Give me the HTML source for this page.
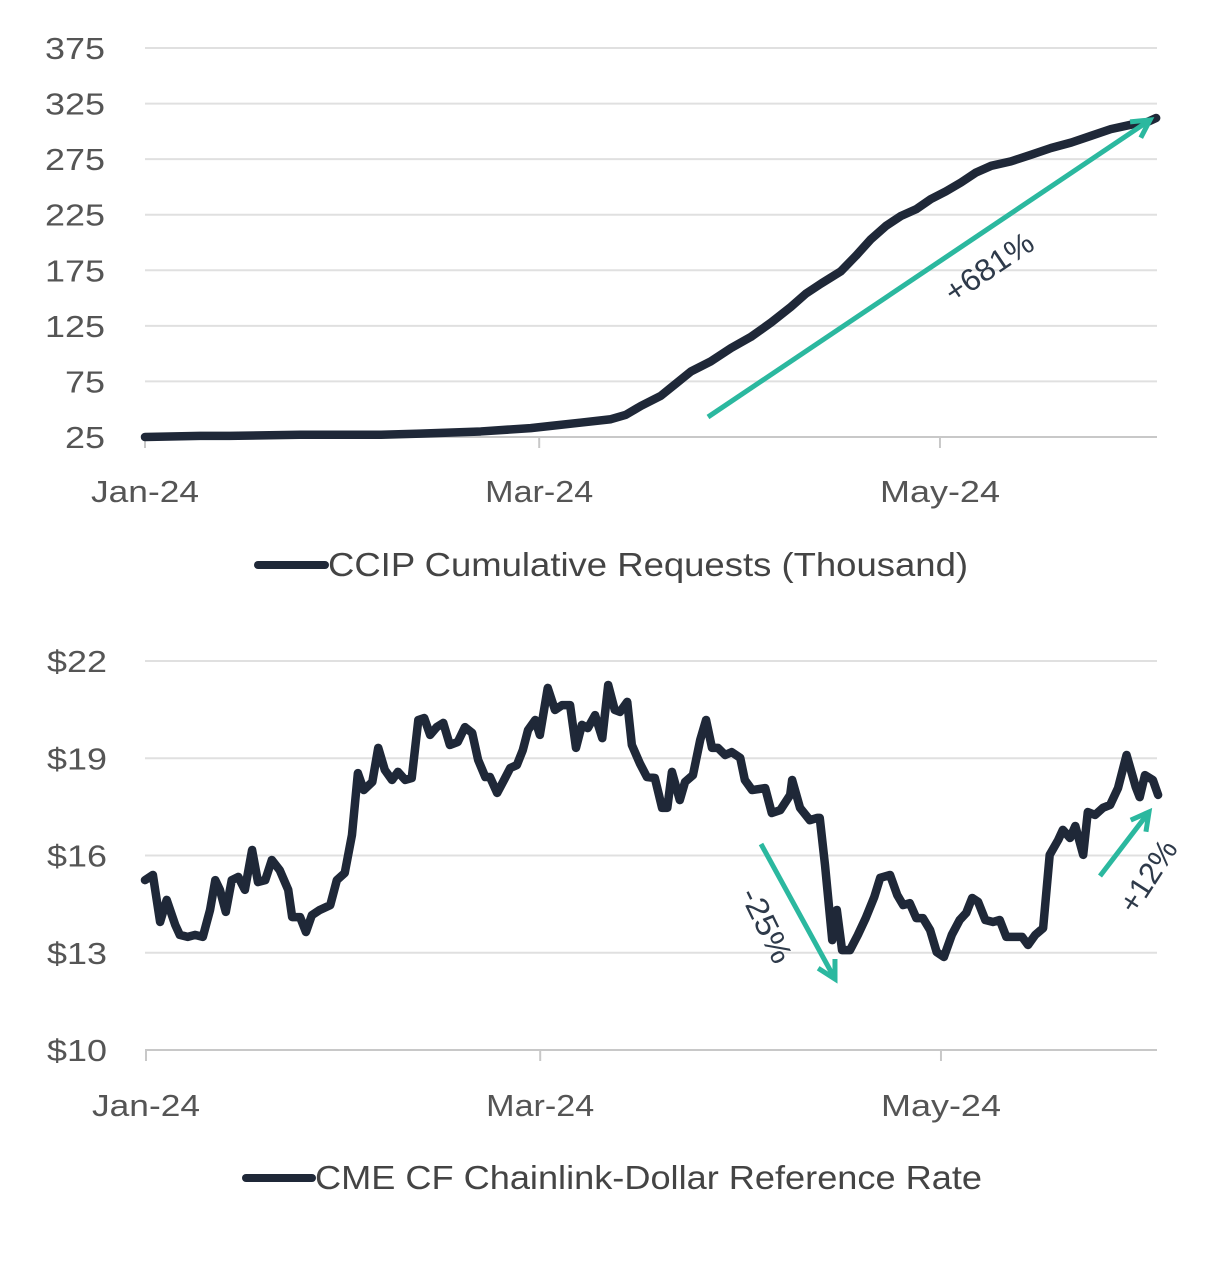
<!DOCTYPE html>
<html><head><meta charset="utf-8"><style>
html,body{margin:0;padding:0;background:#fff;}
svg{display:block;font-family:"Liberation Sans",sans-serif;}
</style></head><body>
<svg id="c" width="1228" height="1270" viewBox="0 0 1228 1270" xmlns="http://www.w3.org/2000/svg"></svg>
<script>
// ---- Top chart data ----
const topDays = [0,8.4,12.9,23.6,35.8,41.9,51.1,58.7,61.8,66.4,70.9,73.2,75.5,78.5,80.8,83.1,86.1,89.2,92.2,95.3,98.3,100.6,102.9,105.9,108.2,110.5,112.8,115.1,117.4,119.6,121.9,124.2,126.5,128.8,131.8,134.9,137.9,141.0,144.0,147.0,150.1,152.4,153.9];
const topValues = [25,26,26,27,27,28,30,33,35,38,41,45,53,62,73,84,93,105,115,128,142,154,163,174,188,203,215,224,230,239,246,254,263,269,273,279,285,290,296,302,306,308,312];
const topTicks = [25,75,125,175,225,275,325,375];
// ---- Bottom chart data ----
const botDays = [0,1.2,2.3,3.3,4.6,5.3,6.5,7.6,8.8,9.9,10.7,11.4,12.3,13.2,14.2,15.2,16.3,17.2,18.3,19.3,20.5,21.8,22.4,23.6,24.5,25.4,26.6,28.2,29.2,30.4,31.5,32.4,33.3,34.6,35.5,36.5,37.6,38.5,39.6,40.6,41.6,42.5,43.4,44.4,45.4,46.4,47.6,48.7,49.8,50.7,51.8,52.5,53.6,54.5,55.6,56.6,57.5,58.3,59.4,60.1,61.3,62.4,63.5,64.7,65.6,66.5,67.4,68.5,69.6,70.5,71.5,72.3,73.4,74.1,75.3,76.4,77.6,78.7,79.5,80.2,81.4,82.2,83.4,84.5,85.4,86.3,87.2,88.3,89.3,90.6,91.3,92.4,94.4,95.4,96.7,98.2,98.5,99.7,101.2,102.3,102.7,103.5,104.6,105.3,106.1,107.3,108.5,109.7,111.0,111.9,113.4,114.5,115.4,116.4,117.4,118.4,119.5,120.5,121.6,122.8,124.0,125.0,125.9,126.8,127.9,129.1,130.1,131.1,132.4,133.5,134.4,135.5,136.7,137.7,139.0,139.7,140.8,141.6,142.8,143.5,144.6,145.8,146.9,148.1,149.4,150.8,151.4,152.2,153.4,154.2];
const botValues = [15.24,15.40,13.95,14.63,13.86,13.55,13.49,13.55,13.49,14.32,15.24,14.94,14.26,15.24,15.34,14.94,16.17,15.18,15.24,15.86,15.55,14.94,14.10,14.10,13.64,14.16,14.32,14.47,15.24,15.46,16.63,18.54,18.02,18.27,19.32,18.64,18.33,18.58,18.33,18.39,20.18,20.24,19.72,19.96,20.09,19.41,19.50,19.96,19.78,18.95,18.42,18.42,17.93,18.27,18.70,18.79,19.25,19.87,20.18,19.72,21.17,20.49,20.64,20.64,19.32,20.03,19.93,20.33,19.62,21.26,20.49,20.43,20.74,19.41,18.85,18.42,18.39,17.47,17.47,18.58,17.71,18.27,18.48,19.56,20.18,19.32,19.32,19.10,19.19,19.01,18.33,18.02,18.08,17.31,17.40,17.87,18.33,17.47,17.09,17.16,17.16,15.71,13.39,14.32,13.08,13.08,13.55,14.07,14.72,15.31,15.40,14.78,14.47,14.53,14.07,14.07,13.70,13.02,12.87,13.55,14.01,14.23,14.69,14.57,14.01,13.95,14.01,13.49,13.49,13.49,13.24,13.55,13.76,16.02,16.48,16.79,16.54,16.91,16.02,17.34,17.25,17.47,17.56,18.08,19.10,18.11,17.80,18.48,18.33,17.87];
const botTicks = [10,13,16,19,22];
const botTickLabels = ["$10","$13","$16","$19","$22"];
const xTickDays = [0,60,121];
const xTickLabels = ["Jan-24","Mar-24","May-24"];

const NS="http://www.w3.org/2000/svg";
const svg=document.getElementById('c');
function mk(tag,attrs,parent){const e=document.createElementNS(NS,tag);for(const k in attrs)e.setAttribute(k,attrs[k]);(parent||svg).appendChild(e);return e;}
const xS=d=>145+d*6.57;
const yTop=v=>437-(v-25)*(389/350);
const yBot=v=>1050-(v-10)*(389/12);
const LINE="#1f2838", TEAL="#2bb89f";

// top grid
topTicks.forEach((t,i)=>{
  const y=yTop(t);
  const g=mk('line',{x1:145,x2:1157,y1:y,y2:y,stroke:i===0?'#c8c8c8':'#e0e0e0','stroke-width':2});
  
  
  const s=String(t);
  const tx=mk('text',{x:105,y:y+11,'text-anchor':'end','font-size':31,fill:'#555',textLength:s.length*20,lengthAdjust:'spacingAndGlyphs'});
  tx.textContent=s;
  
  
});
xTickDays.forEach((d,i)=>{
  const x=xS(d);
  const tk=mk('line',{x1:x,x2:x,y1:437,y2:448,stroke:'#c8c8c8','stroke-width':2});
  
  
  const tx=mk('text',{x:x,y:502,'text-anchor':'middle','font-size':31,fill:'#555',textLength:i===2?120:108,lengthAdjust:'spacingAndGlyphs'});
  tx.textContent=xTickLabels[i];
  
  
});
const tp=mk('polyline',{points:topDays.map((d,i)=>xS(d)+','+yTop(topValues[i])).join(' '),fill:'none',stroke:LINE,'stroke-width':8.5,'stroke-linejoin':'round','stroke-linecap':'round'});



// bottom grid
botTicks.forEach((t,i)=>{
  const y=yBot(t);
  const g=mk('line',{x1:145,x2:1157,y1:y,y2:y,stroke:i===0?'#c8c8c8':'#e0e0e0','stroke-width':2});
  
  
  const tx=mk('text',{x:107,y:y+11,'text-anchor':'end','font-size':31,fill:'#555',textLength:60,lengthAdjust:'spacingAndGlyphs'});
  tx.textContent=botTickLabels[i];
  
  
});
xTickDays.forEach((d,i)=>{
  const x=xS(d)+1;
  const tk=mk('line',{x1:x,x2:x,y1:1050,y2:1061,stroke:'#c8c8c8','stroke-width':2});
  
  
  const tx=mk('text',{x:x,y:1116,'text-anchor':'middle','font-size':31,fill:'#555',textLength:i===2?120:108,lengthAdjust:'spacingAndGlyphs'});
  tx.textContent=xTickLabels[i];
  
  
});
const bp=mk('polyline',{points:botDays.map((d,i)=>xS(d)+','+yBot(botValues[i])).join(' '),fill:'none',stroke:LINE,'stroke-width':8.5,'stroke-linejoin':'round','stroke-linecap':'round'});



// arrows
function arrow(x1,y1,x2,y2,name){
  const a=mk('line',{x1,y1,x2,y2,stroke:TEAL,'stroke-width':5});
  
  
  const ang=Math.atan2(y2-y1,x2-x1),L=20;
  const h=mk('polyline',{points:`${x2-L*Math.cos(ang-0.5)},${y2-L*Math.sin(ang-0.5)} ${x2},${y2} ${x2-L*Math.cos(ang+0.5)},${y2-L*Math.sin(ang+0.5)}`,fill:'none',stroke:TEAL,'stroke-width':5});
  
  
}
function label(x,y,rot,txt,name,len){
  const t=mk('text',{x,y,'text-anchor':'middle','font-size':31,fill:'#2e3a4a',transform:`rotate(${rot} ${x} ${y})`,textLength:len,lengthAdjust:'spacingAndGlyphs'});
  t.textContent=txt;
  
  
}
arrow(708,417,1150,120,'growth-arrow');
label(995,276,-34,'+681%','growth-label',100);
arrow(761,844,835,979,'drop-arrow');
label(757,930,64,'-25%','drop-label',80);
arrow(1100,876,1149,812,'rise-arrow');
label(1157,882,-57,'+12%','rise-label',80);

// legends
function legend(x1,x2,y,txt,name,len){
  const l=mk('line',{x1,x2,y1:y,y2:y,stroke:LINE,'stroke-width':8,'stroke-linecap':'round'});
  
  
  const t=mk('text',{x:x2+3,y:y+11,'font-size':33,fill:'#444',textLength:len,lengthAdjust:'spacingAndGlyphs'});
  t.textContent=txt;
  
  
}
legend(258,325,565,'CCIP Cumulative Requests (Thousand)','top-legend',640);
legend(246,312,1178,'CME CF Chainlink-Dollar Reference Rate','bottom-legend',667);
</script>
</body></html>
